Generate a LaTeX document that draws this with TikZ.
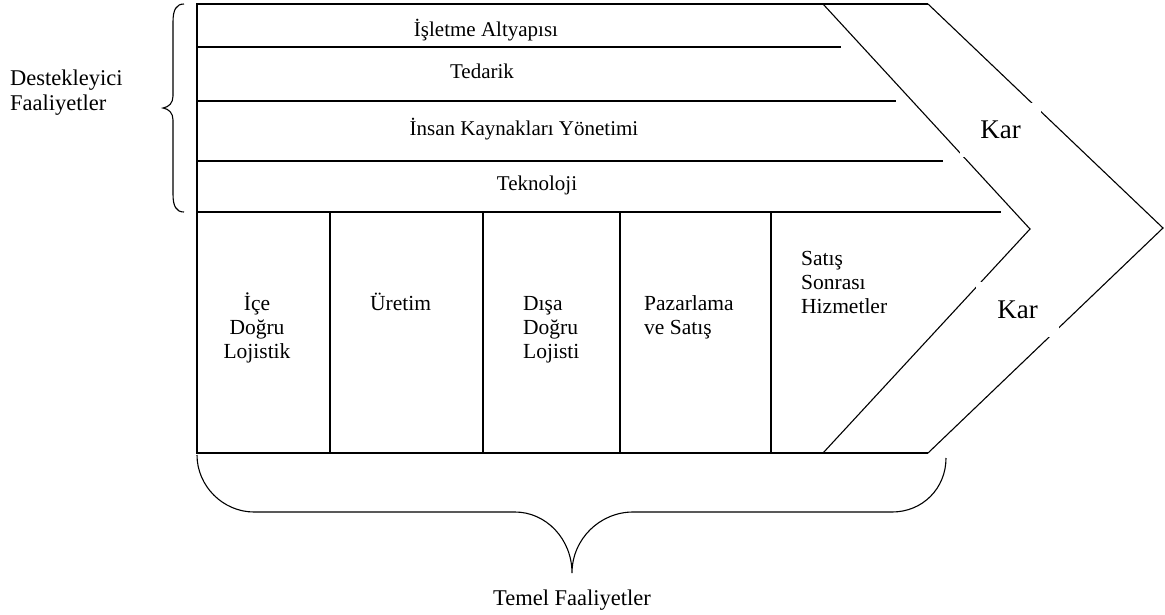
\documentclass[tikz,border=0pt]{standalone}
\usepackage{fontspec}
\setmainfont{Liberation Serif}
\tikzset{
  frame/.style={line width=1.1pt, line join=miter},
  bracecurve/.style={line width=1.1pt},
  bandtxt/.style={font=\fontsize{21}{24}\selectfont, inner sep=0pt, anchor=base},
  coltxt/.style={font=\fontsize{21.5}{24}\selectfont, inner sep=0pt, anchor=base west},
  sidetxt/.style={font=\fontsize{22.5}{25}\selectfont, inner sep=0pt, anchor=base west},
  kartxt/.style={font=\fontsize{27}{30}\selectfont, fill=white, inner sep=0pt}
}
\begin{document}
\begin{tikzpicture}[x=1pt,y=-1pt]
\useasboundingbox (0,0) rectangle (1165,614);
% corner coordinates
\coordinate (tl) at (197,4);
\coordinate (bl) at (197,453);
\coordinate (ti) at (823,4);
\coordinate (bi) at (823,453);
\coordinate (pi) at (1030,229);
\coordinate (to) at (928,4);
\coordinate (bo) at (928,453);
\coordinate (po) at (1163,228);
% frame
\draw[frame] (to) -- (tl) -- (bl) -- (bo);
\draw[frame] (ti) -- (pi) -- (bi);
\draw[frame] (to) -- (po) -- (bo);
% support bands
\draw[frame] (197,47) -- (841,47);
\draw[frame] (197,101) -- (896,101);
\draw[frame] (197,161) -- (943,161);
\draw[frame] (197,212) -- (1001,212);
% primary columns
\foreach \xx in {330,483,620,771} \draw[frame] (\xx,212) -- (\xx,453);
% band texts
\node[bandtxt] (b1) at (486,36) {İşletme Altyapısı};
\node[bandtxt] (b2) at (482,78) {Tedarik};
\node[bandtxt] (b3) at (524,135) {İnsan Kaynakları Yönetimi};
\node[bandtxt] (b4) at (537,190) {Teknoloji};
% column texts
\node[coltxt, anchor=base] (c1) at (257,310) {\begin{tabular}[t]{@{}c@{}}İçe\\Doğru\\Lojistik\end{tabular}};
\node[coltxt] (c2) at (370,310) {Üretim};
\node[coltxt] (c3) at (523,310) {\begin{tabular}[t]{@{}l@{}}Dışa\\Doğru\\Lojisti\end{tabular}};
\node[coltxt] (c4) at (644,310) {\begin{tabular}[t]{@{}l@{}}Pazarlama\\ve Satış\end{tabular}};
\node[coltxt] (c5) at (801,265) {\begin{tabular}[t]{@{}l@{}}Satış\\Sonrası\\Hizmetler\end{tabular}};
% Kar labels (white boxes cut the chevron lines)
\node[kartxt, minimum width=81pt, minimum height=54pt] (kar1) at (1000.5,130) {Kar};
\node[kartxt, minimum width=83pt, minimum height=55pt] (kar2) at (1017.5,309.5) {Kar};
% left brace
\draw[bracecurve] (184,4) .. controls (176,4) and (173,10) .. (173,22) -- (173,96)
  .. controls (173,103) and (169,107) .. (163,108)
  .. controls (169,109) and (173,113) .. (173,120) -- (173,194)
  .. controls (173,206) and (176,212) .. (184,212);
\node[sidetxt] (dest) at (10,85) {\begin{tabular}[t]{@{}l@{}}Destekleyici\\Faaliyetler\end{tabular}};
% bottom brace
\draw[bracecurve] (197,455) .. controls (197,486) and (223,512) .. (254,512) -- (515,512)
  .. controls (546,512) and (572,539) .. (572,573)
  .. controls (572,539) and (600,512) .. (633,512) -- (892,512)
  .. controls (923,512) and (946,488) .. (946,458);
\node[sidetxt, anchor=base] (temel) at (572,605) {Temel Faaliyetler};
\end{tikzpicture}
\end{document}
